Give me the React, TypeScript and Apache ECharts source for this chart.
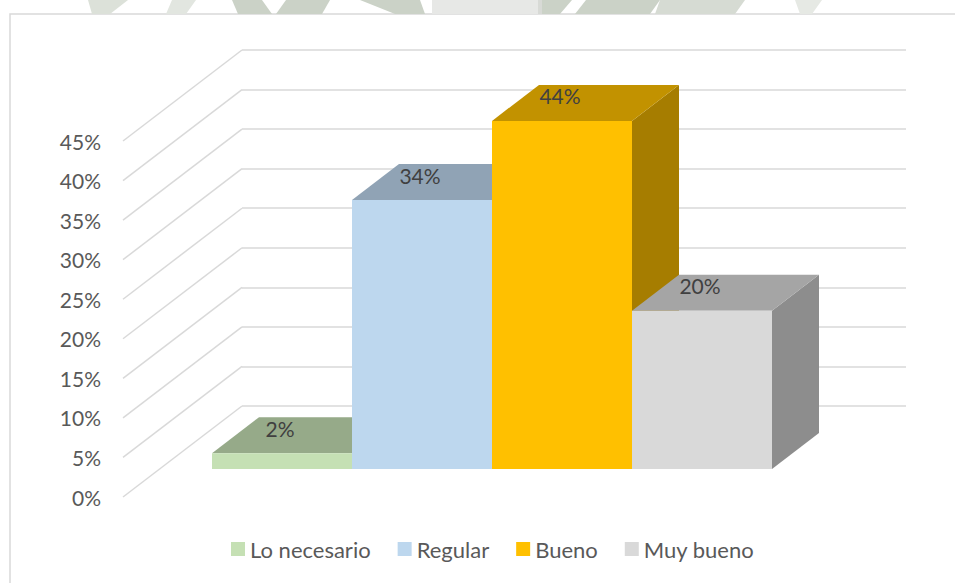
import React, { useEffect, useRef } from "react";
import * as echarts from "echarts";

const seriesNames = ["Lo necesario", "Regular", "Bueno", "Muy bueno"];
const seriesValues = [0.02, 0.34, 0.44, 0.2];
const seriesLabels = ["2%", "34%", "44%", "20%"];
const frontColors = ["#C5E0B4", "#BDD7EE", "#FFC000", "#D9D9D9"];
const topColors = ["#96AA89", "#90A3B5", "#C29200", "#A5A5A5"];
const sideColors = ["#80926F", "#7B8C9B", "#A67D00", "#8D8D8D"];
const yTicks = [0, 0.05, 0.1, 0.15, 0.2, 0.25, 0.3, 0.35, 0.4, 0.45];
const yTickLabels = ["0%", "5%", "10%", "15%", "20%", "25%", "30%", "35%", "40%", "45%"];

const FONT = "Lato, 'Open Sans', sans-serif";
const BAR_DX = 47;
const BAR_DY = 36;
const WALL_DX = 119;
const WALL_DY = 91;

export default function App() {
  const ref = useRef<HTMLDivElement>(null);
  useEffect(() => {
    if (!ref.current) return;
    const chart = echarts.init(ref.current, undefined, { renderer: "svg" });
    const wm = "#CBD2C7";
    const wmLight = "#E7E8E6";
    const option: any = {
      animation: false,
      backgroundColor: "#ffffff",
      graphic: [
        { type: "polygon", shape: { points: [[88, 0], [128, 0], [110, 14], [92, 14]] }, style: { fill: "#DCE1D9" } },
        { type: "polygon", shape: { points: [[172, 0], [196, 0], [186, 14], [166, 14]] }, style: { fill: "#E2E6E0" } },
        { type: "polygon", shape: { points: [[232, 0], [262, 0], [272, 14], [238, 14]] }, style: { fill: wm } },
        { type: "polygon", shape: { points: [[286, 0], [330, 0], [322, 14], [276, 14]] }, style: { fill: wm } },
        { type: "polygon", shape: { points: [[360, 0], [420, 0], [425, 14], [395, 14]] }, style: { fill: wm } },
        { type: "rect", shape: { x: 432, y: 0, width: 106, height: 14 }, style: { fill: wmLight } },
        { type: "rect", shape: { x: 538, y: 0, width: 4, height: 14 }, style: { fill: "#D8DAD6" } },
        { type: "polygon", shape: { points: [[542, 0], [572, 0], [560, 14], [542, 14]] }, style: { fill: wm } },
        { type: "polygon", shape: { points: [[586, 0], [660, 0], [650, 14], [575, 14]] }, style: { fill: wm } },
        { type: "polygon", shape: { points: [[660, 0], [745, 0], [735, 14], [655, 14]] }, style: { fill: "#D6DBD3" } },
        { type: "polygon", shape: { points: [[795, 0], [822, 0], [812, 14], [800, 14]] }, style: { fill: "#E6E9E4" } },
        {
          type: "rect",
          shape: { x: 10, y: 14, width: 1000, height: 1000 },
          style: { fill: "#ffffff", stroke: "#D9D9D9", lineWidth: 1.5 },
          z: -10,
        },
      ],
      grid: [
        { left: 212, top: 113, width: 560, height: 356 },
        { left: 123, top: 141, width: 100, height: 356 },
        { left: 242, top: 50, width: 664, height: 356 },
      ],
      xAxis: [
        { gridIndex: 0, type: "category", data: seriesNames, show: false },
        { gridIndex: 1, type: "value", min: 0, max: 1, show: false },
        { gridIndex: 2, type: "value", min: 0, max: 1, show: false },
      ],
      yAxis: [
        { gridIndex: 0, type: "value", min: 0, max: 0.45, show: false },
        {
          gridIndex: 1,
          type: "value",
          min: 0,
          max: 0.45,
          interval: 0.05,
          axisLine: { show: false },
          axisTick: { show: false },
          splitLine: { show: false },
          axisLabel: {
            margin: 22,
            color: "#595959",
            fontSize: 21,
            fontFamily: FONT,
            formatter: (v: number) => yTickLabels[Math.round(v / 0.05)],
          },
        },
        {
          gridIndex: 2,
          type: "value",
          min: 0,
          max: 0.45,
          interval: 0.05,
          axisLine: { show: false },
          axisTick: { show: false },
          axisLabel: { show: false },
          splitLine: { show: true, lineStyle: { color: "#D9D9D9", width: 1.5 } },
        },
      ],
      legend: {
        data: seriesNames.map((n, i) => ({ name: n, icon: "rect", itemStyle: { color: frontColors[i] } })),
        left: 231,
        top: 538,
        padding: 0,
        itemWidth: 14,
        itemHeight: 14,
        itemGap: 27,
        textStyle: { color: "#595959", fontSize: 22, fontFamily: FONT },
        selectedMode: false,
      },
      series: [
        {
          type: "custom",
          name: "walls",
          xAxisIndex: 2,
          yAxisIndex: 2,
          silent: true,
          clip: false,
          data: yTicks.map((t) => [0, t]),
          renderItem: (params: any, api: any) => {
            const p = api.coord([0, api.value(1)]);
            return {
              type: "line",
              shape: { x1: p[0] - WALL_DX, y1: p[1] + WALL_DY, x2: p[0], y2: p[1] },
              style: { stroke: "#D9D9D9", lineWidth: 1.5 },
            };
          },
        },
        ...seriesNames.map((name, i) => ({
          type: "custom",
          name,
          xAxisIndex: 0,
          yAxisIndex: 0,
          clip: false,
          silent: true,
          itemStyle: { color: frontColors[i] },
          data: [[i, seriesValues[i]]],
          renderItem: (params: any, api: any) => {
            const cat = api.value(0);
            const v = api.value(1);
            const base = api.coord([cat, 0]);
            const top = api.coord([cat, v]);
            const w = api.size([1, 0])[0];
            const x0 = base[0] - w / 2;
            const x1 = base[0] + w / 2;
            const yb = base[1];
            const yt = top[1];
            return {
              type: "group",
              children: [
                {
                  type: "polygon",
                  shape: { points: [[x1, yt], [x1 + BAR_DX, yt - BAR_DY], [x1 + BAR_DX, yb - BAR_DY], [x1, yb]] },
                  style: { fill: sideColors[i] },
                },
                {
                  type: "polygon",
                  shape: { points: [[x0, yt], [x1, yt], [x1 + BAR_DX, yt - BAR_DY], [x0 + BAR_DX, yt - BAR_DY]] },
                  style: { fill: topColors[i] },
                },
                {
                  type: "rect",
                  shape: { x: x0, y: yt, width: w, height: yb - yt },
                  style: { fill: frontColors[i] },
                },
                {
                  type: "text",
                  style: {
                    text: seriesLabels[i],
                    x: base[0] - 2,
                    y: yt - 25,
                    align: "center",
                    verticalAlign: "middle",
                    fill: "#404040",
                    fontSize: 21,
                    fontFamily: FONT,
                  },
                },
              ],
            };
          },
        })),
      ],
    };
    chart.setOption(option);
    return () => chart.dispose();
  }, []);
  return (
    <div
      ref={ref}
      style={{ position: "absolute", left: 0, top: 0, width: 955, height: 583 }}
    />
  );
}
